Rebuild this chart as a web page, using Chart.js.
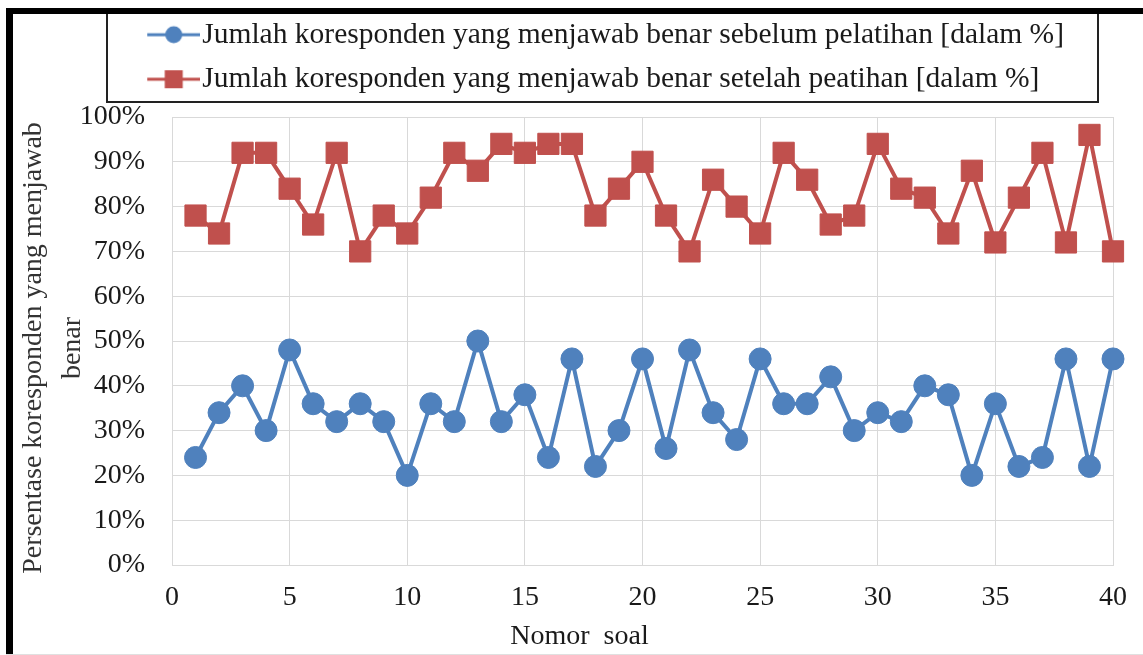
<!DOCTYPE html>
<html>
<head>
<meta charset="utf-8">
<script src="https://cdn.jsdelivr.net/npm/chart.js@4.4.1/dist/chart.umd.min.js"></script>
<style>
  html, body { margin: 0; padding: 0; background: #fff; }
  #wrap { position: relative; width: 1143px; height: 655px; }
</style>
</head>
<body>
<div id="wrap"><canvas id="soalChart" width="1143" height="655"></canvas></div>
<script>
// nomor soal 1..40
const soal = [1, 2, 3, 4, 5, 6, 7, 8, 9, 10, 11, 12, 13, 14, 15, 16, 17, 18, 19, 20,
              21, 22, 23, 24, 25, 26, 27, 28, 29, 30, 31, 32, 33, 34, 35, 36, 37, 38, 39, 40];
// persentase benar sebelum pelatihan
const sebelum = [24, 34, 40, 30, 48, 36, 32, 36, 32, 20, 36, 32, 50, 32, 38, 24, 46, 22, 30, 46,
                 26, 48, 34, 28, 46, 36, 36, 42, 30, 34, 32, 40, 38, 20, 36, 22, 24, 46, 22, 46];
// persentase benar setelah pelatihan
const setelah = [78, 74, 92, 92, 84, 76, 92, 70, 78, 74, 82, 92, 88, 94, 92, 94, 94, 78, 84, 90,
                 78, 70, 86, 80, 74, 92, 86, 76, 78, 94, 84, 82, 74, 88, 72, 82, 92, 72, 96, 70];
const seriesLabels = [
    'Jumlah koresponden yang menjawab benar sebelum pelatihan [dalam %]',
    'Jumlah koresponden yang menjawab benar setelah peatihan [dalam %]'
];
const xTitle = 'Nomor  soal';
const yTitle = ['Persentase koresponden yang menjawab', 'benar'];

const BLUE = '#4F81BD';
const RED = '#C0504D';
const GRID = '#d9d9d9';
const TEXT = '#1a1a1a';

Chart.defaults.font.family = "'Liberation Serif', 'Times New Roman', serif";
Chart.defaults.color = TEXT;

function toPoints(values) {
    return values.map((v, i) => ({ x: soal[i], y: v }));
}

// legend icon: line with marker, sitting at the right end of a wide transparent image
const ICON_W = 190;
function legendIcon(color, shape) {
    const c = document.createElement('canvas');
    c.width = ICON_W;
    c.height = 22;
    const g = c.getContext('2d');
    const x0 = ICON_W - 53;
    g.strokeStyle = color;
    g.lineWidth = 3;
    g.beginPath();
    g.moveTo(x0, 11);
    g.lineTo(ICON_W, 11);
    g.stroke();
    g.fillStyle = color;
    if (shape === 'circle') {
        g.beginPath();
        g.arc(x0 + 26.5, 11, 8.5, 0, Math.PI * 2);
        g.fill();
    } else {
        g.fillRect(x0 + 17.5, 2, 18, 18);
    }
    return c;
}
const legendIcons = [legendIcon(BLUE, 'circle'), legendIcon(RED, 'rect')];

// frame, legend box and white background
const framePlugin = {
    id: 'framePlugin',
    beforeInit(chart) {
        // extra room under the legend
        const fit = chart.legend.fit;
        chart.legend.fit = function () {
            fit.call(this);
            this.height += 13;
        };
    },
    beforeDraw(chart) {
        const ctx = chart.ctx;
        ctx.save();
        ctx.fillStyle = '#fff';
        ctx.fillRect(0, 0, chart.width, chart.height);
        ctx.restore();
    },
    afterDraw(chart) {
        const ctx = chart.ctx;
        ctx.save();
        // legend border
        ctx.strokeStyle = '#222';
        ctx.lineWidth = 2;
        ctx.strokeRect(107, 11, 991, 91);
        // outer frame (top + left)
        ctx.fillStyle = '#000';
        ctx.fillRect(6, 8, chart.width - 6, 6);
        ctx.fillRect(6, 8, 7, chart.height - 8);
        ctx.fillStyle = '#e0e0e0';
        ctx.fillRect(6, chart.height - 1, chart.width - 6, 1);
        ctx.restore();
    }
};

const ctx = document.getElementById('soalChart').getContext('2d');

const myChart = new Chart(ctx, {
    type: 'line',
    data: {
        datasets: [
            {
                label: seriesLabels[0],
                data: toPoints(sebelum),
                borderColor: BLUE,
                backgroundColor: BLUE,
                borderWidth: 4,
                pointStyle: 'circle',
                pointRadius: 11,
                pointBorderWidth: 1,
                pointBackgroundColor: BLUE,
                pointBorderColor: BLUE,
                tension: 0,
                clip: false
            },
            {
                label: seriesLabels[1],
                data: toPoints(setelah),
                borderColor: RED,
                backgroundColor: RED,
                borderWidth: 4,
                pointStyle: 'rect',
                pointRadius: 15,
                pointBorderWidth: 1,
                pointBackgroundColor: RED,
                pointBorderColor: RED,
                tension: 0,
                clip: false
            }
        ]
    },
    options: {
        responsive: false,
        animation: false,
        layout: {
            padding: { left: 8, right: 25, top: 5, bottom: 0 }
        },
        plugins: {
            tooltip: { enabled: false },
            legend: {
                position: 'top',
                align: 'start',
                labels: {
                    usePointStyle: true,
                    pointStyleWidth: 164.5,
                    padding: 15,
                    color: TEXT,
                    font: { size: 29.5 },
                    generateLabels(chart) {
                        const items = Chart.defaults.plugins.legend.labels.generateLabels(chart);
                        items.forEach((it, i) => { it.pointStyle = legendIcons[i]; });
                        return items;
                    }
                }
            }
        },
        scales: {
            x: {
                type: 'linear',
                min: 0,
                max: 40,
                ticks: {
                    stepSize: 5,
                    padding: 16,
                    color: TEXT,
                    font: { size: 28 },
                    maxRotation: 0
                },
                grid: { color: GRID, lineWidth: 1, drawTicks: false },
                border: { color: GRID },
                title: {
                    display: true,
                    // trailing spaces push the title left like in the original
                    text: xTitle + '                  ',
                    color: TEXT,
                    font: { size: 28 },
                    padding: { top: 0, bottom: 2 }
                },
                afterFit(scale) { scale.height = 90; }
            },
            y: {
                min: 0,
                max: 100,
                ticks: {
                    stepSize: 10,
                    padding: 27,
                    color: TEXT,
                    font: { size: 28 },
                    callback: (v) => v + '%'
                },
                grid: { color: GRID, lineWidth: 1, drawTicks: false },
                border: { color: GRID },
                title: {
                    display: true,
                    // two trailing spaces nudge the rotated title down a little
                    text: yTitle.map((t) => t + '  '),
                    color: '#333',
                    font: { size: 28, lineHeight: 1.4 },
                    padding: { top: 6, bottom: 0 }
                },
                afterFit(scale) { scale.width = 164; }
            }
        }
    },
    plugins: [framePlugin]
});
</script>
</body>
</html>
